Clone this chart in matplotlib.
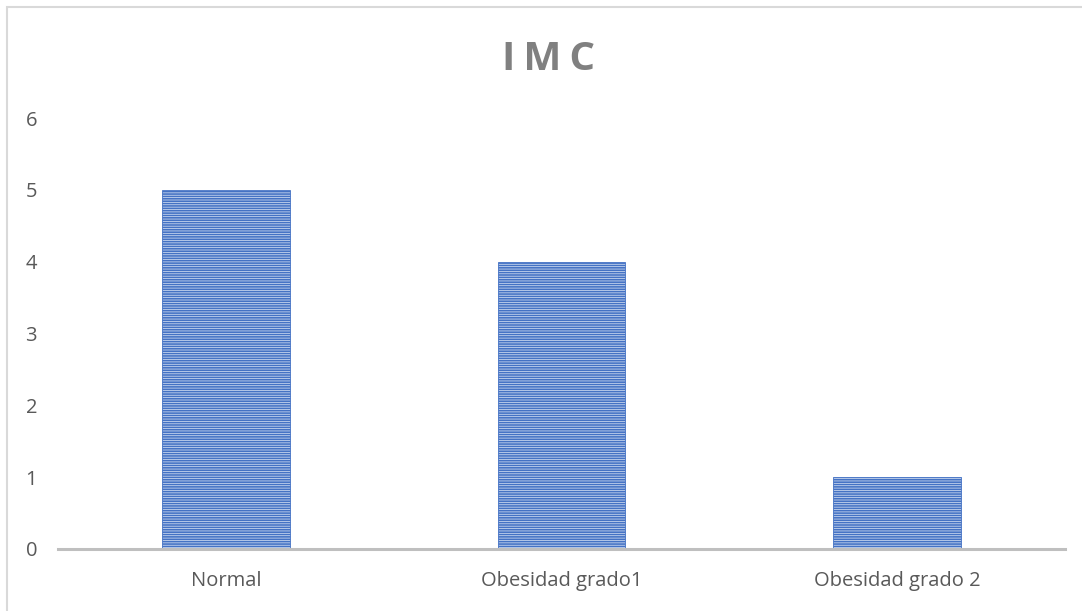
import matplotlib.pyplot as plt
from matplotlib.patches import Rectangle

categories = ['Normal', 'Obesidad grado1', 'Obesidad grado 2']
values = [5, 4, 1]
yticks = [0, 1, 2, 3, 4, 5, 6]

plt.rcParams['font.family'] = ['Open Sans', 'DejaVu Sans']
plt.rcParams['hatch.linewidth'] = 1.2
plt.rcParams['hatch.color'] = '#4472c4'

fig = plt.figure(figsize=(10.82, 6.11), dpi=100)
ax = fig.add_axes([58/1082, 1 - 549/611, (1065 - 58)/1082, (549 - 118)/611])

x = range(len(categories))
ax.bar(x, values, width=0.38, color='#dce5f5', edgecolor='#4472c4',
       linewidth=0.6, hatch='-------', zorder=2)

ax.set_xlim(-0.5, len(categories) - 0.5)
ax.set_ylim(0, 6)
ax.set_yticks(yticks)
ax.set_xticks(list(x))
ax.set_xticklabels(categories)
ax.tick_params(axis='both', length=0, labelsize=14.5, colors='#595959')
ax.tick_params(axis='y', pad=15)
ax.tick_params(axis='x', pad=16)

for s in ['top', 'right', 'left']:
    ax.spines[s].set_visible(False)
ax.spines['bottom'].set_color('#bfbfbf')
ax.spines['bottom'].set_linewidth(2.2)
ax.spines['bottom'].set_zorder(3)

fig.text(548/1082, 1 - 59/611, 'I\u2009M\u2009C', ha='center', va='center',
         fontsize=29, fontweight='bold', color='#808080')

# chart area frame
fig.patches.append(Rectangle((7/1082, -0.05), 1.1, 1 - 7/611 + 0.05,
                             transform=fig.transFigure, fill=False,
                             edgecolor='#d9d9d9', linewidth=1.5))

fig.savefig('out.png', dpi=100)
